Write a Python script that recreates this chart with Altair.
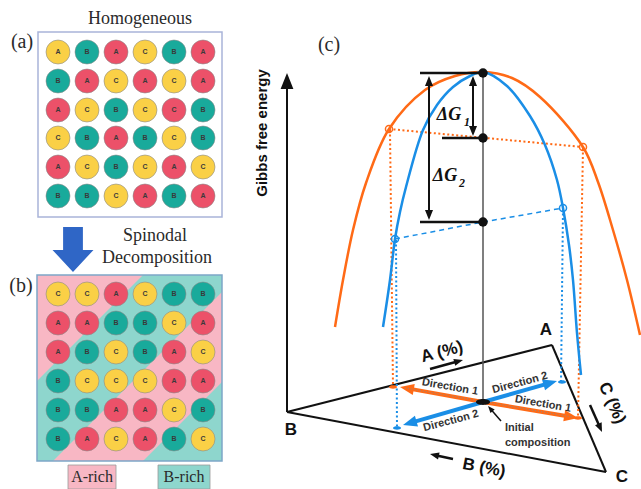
import math
import altair as alt
import pandas as pd

W, H = 641, 489
SERIF = "Liberation Serif"
SANS = "Liberation Sans"

RED, TEAL, YELLOW = "#ec5169", "#19aa9b", "#fad046"
PALETTE = {"R": RED, "T": TEAL, "Y": YELLOW}
PINK_BG, TEAL_BG = "#f8b7c4", "#8ed6cd"
ORANGE, BLUE = "#ff6a16", "#1a8ee6"
ARROW_BLUE = "#2f66c6"
INK = "#111111"

# ---------------- lattice panels (a) and (b) ----------------
col_x = [58, 87, 116, 145, 174, 203]
rows_a = [52, 81, 110, 138, 167, 196]
rows_b = [294, 323, 352, 381, 410, 439]
letters_a = ["ABACBA", "BACACA", "ACBCCB", "CBABCB", "ACBCAC", "BBCABA"]
tones_a = ["YTRYTR", "TRYRYR", "RYTYRT", "YTRTYT", "RYTYRY", "TTYRTR"]
letters_b = ["CCACBB", "AABBCA", "ABCBAC", "BCCCAA", "BBAACB", "BACABC"]
tones_b = ["YYRYTT", "RRTTYR", "RTYTRY", "TYYYRR", "TTRRYT", "TRYRTY"]

box_a = (38, 32, 222, 217)
box_b = (37, 275, 222, 461)
# diagonal composition bands in (b): boundaries of constant x + y
band_edges = [418, 514, 604]
legend_boxes = [(68, 465, 116, 489, PINK_BG), (158, 465, 210, 489, TEAL_BG)]

# ---------------- free-energy panel (c) ----------------
orange_curve = [(335, 327), (343, 280), (353, 230), (366, 183), (389, 129), (425, 90),
                (455, 76), (483, 72), (512, 78), (540, 97), (583, 147), (598, 182),
                (613, 230), (627, 280), (640, 335)]
blue_curve = [(383, 327), (390, 280), (395, 239), (400, 212), (406, 187), (423, 130),
              (437, 105), (453, 87), (470, 76), (483, 72), (507, 86), (530, 116),
              (545, 145), (557, 180), (563, 208), (569, 245), (573, 280), (577, 333),
              (581, 375)]
tri_B, tri_A, tri_C = (287, 412), (552, 345), (606, 472)
center_x, top_y, base_y = 483, 72, 402
level_dots = [(483, 73), (483, 138), (483, 222)]
level_bars = [(420, 73, 483, 73), (442, 138, 483, 138), (420, 222, 483, 222)]
orange_open = [(389, 129), (583, 147)]
blue_open = [(395, 239), (563, 208)]
orange_dotted = [(389, 129, 583, 147), (390, 130, 393, 387), (583, 148, 578, 418)]
blue_dotted = [(396, 240, 397, 428), (563, 209, 561, 382)]
blue_dashed = [(395, 239, 483, 222), (483, 222, 563, 208)]
orange_dirs = [(483, 402, 400, 387), (483, 402, 578, 418)]
blue_dirs = [(483, 402, 557, 381), (483, 402, 403, 425)]
small_arrows = [(430, 369, 463, 360), (453, 459, 430, 454), (590, 405, 602, 432)]
pointer = [(501, 421, 488, 406)]
dg_arrows = [(473, 76, 473, 136), (429, 76, 429, 220)]

xs = alt.Scale(domain=[0, W], nice=False, zero=False)
ys = alt.Scale(domain=[H, 0], nice=False, zero=False)


def pos():
    return dict(x=alt.X("x:Q", scale=xs, axis=None), y=alt.Y("y:Q", scale=ys, axis=None))


def rules(rows, **style):
    df = pd.DataFrame(rows, columns=["x", "y", "x2", "y2"])
    return alt.Chart(df).mark_rule(**style).encode(**pos(), x2="x2:Q", y2="y2:Q")


def rects(rows, **style):
    df = pd.DataFrame(rows, columns=["x", "y", "x2", "y2"])
    return alt.Chart(df).mark_rect(**style).encode(**pos(), x2="x2:Q", y2="y2:Q")


HEAD = "M0,0 L-2,-0.8 L-2,0.8 Z"
ELLIPSE = "M-1,0 C-1,-0.55 1,-0.55 1,0 C1,0.55 -1,0.55 -1,0 Z"
DOWN_ARROW = "M-0.44,-1 L0.44,-1 L0.44,0.02 L0.91,0.02 L0,1 L-0.91,0.02 L-0.44,0.02 Z"


def arrows(rows, color, width, head, both=False):
    shafts, tips = [], []
    for x0, y0, x1, y1 in rows:
        d = math.hypot(x1 - x0, y1 - y0)
        ux, uy = (x1 - x0) / d, (y1 - y0) / d
        back = 0.75 * head
        sx, sy = (x0 + ux * back, y0 + uy * back) if both else (x0, y0)
        shafts.append((sx, sy, x1 - ux * back, y1 - uy * back))
        tips.append((x1, y1, math.degrees(math.atan2(uy, ux)) % 360))
        if both:
            tips.append((x0, y0, math.degrees(math.atan2(-uy, -ux)) % 360))
    shaft = rules(shafts, color=color, strokeWidth=width, strokeCap="butt")
    tdf = pd.DataFrame(tips, columns=["x", "y", "a"])
    hd = alt.Chart(tdf).mark_point(shape=HEAD, filled=True, size=head ** 2, color=color,
                                   opacity=1, strokeWidth=0).encode(
        **pos(), angle=alt.Angle("a:Q", scale=None))
    return [shaft, hd]


def symbols(rows, shape, size, **style):
    df = pd.DataFrame(rows, columns=["x", "y"])
    return alt.Chart(df).mark_point(shape=shape, size=size, opacity=1, **style).encode(**pos())


def texts(rows, **style):
    df = pd.DataFrame(rows, columns=["x", "y", "t", "a"])
    return alt.Chart(df).mark_text(**style).encode(
        **pos(), text="t:N", angle=alt.Angle("a:Q", scale=None))


def curve(pts, color, width):
    df = pd.DataFrame(pts, columns=["x", "y"])
    return alt.Chart(df).mark_line(color=color, strokeWidth=width,
                                   interpolate="catmull-rom").encode(**pos())


def lattice(letters, tones, rows_y):
    recs = []
    for r, (ls, ts) in enumerate(zip(letters, tones)):
        for c, (l, t) in enumerate(zip(ls, ts)):
            recs.append((col_x[c], rows_y[r], l, PALETTE[t]))
    df = pd.DataFrame(recs, columns=["x", "y", "t", "c"])
    dots = alt.Chart(df).mark_point(shape="circle", filled=True, size=576, opacity=1,
                                    stroke="#8a8a8a", strokeWidth=0.6).encode(
        **pos(), fill=alt.Fill("c:N", scale=None))
    labs = alt.Chart(df).mark_text(font=SANS, fontSize=7, fontWeight="bold",
                                   color="#3a3a3a").encode(**pos(), text="t:N")
    return [dots, labs]


def band(lo, hi):
    x0, y0, x1, y1 = box_b
    cand = sorted({x0, x1, lo - y1, lo - y0, hi - y1, hi - y0})
    out = []
    for v in cand:
        if x0 <= v <= x1:
            top, bot = max(y0, lo - v), min(y1, hi - v)
            if bot >= top:
                out.append((v, top, bot))
    return out


layers = []

# panel (a)
layers.append(rects([box_a], fill="white", stroke="#a9b4d9", strokeWidth=1.5))
layers += lattice(letters_a, tones_a, rows_a)

# panel (b): teal ground with pink diagonal bands
layers.append(rects([box_b], fill=TEAL_BG))
band_rows = []
for k, (lo, hi) in enumerate([(0, band_edges[0]), (band_edges[1], band_edges[2])]):
    band_rows += [(k, v, t, b) for v, t, b in band(lo, hi)]
bdf = pd.DataFrame(band_rows, columns=["k", "x", "y", "y2"])
layers.append(alt.Chart(bdf).mark_area(color=PINK_BG, opacity=1).encode(
    **pos(), y2="y2:Q", detail="k:N"))
layers.append(rects([box_b], fill=None, stroke="#7ea6c8", strokeWidth=1.5, filled=False))
layers += lattice(letters_b, tones_b, rows_b)

for x0, y0, x1, y1, c in legend_boxes:
    layers.append(rects([(x0, y0, x1, y1)], fill=c, stroke="#9a9a9a", strokeWidth=0.8))

# big arrow between panels
layers.append(symbols([(73, 249.5)], DOWN_ARROW, 2025, filled=True, color=ARROW_BLUE,
                      strokeWidth=0))

layers.append(texts([(140, 19, "Homogeneous", 0), (155, 236, "Spinodal", 0),
                     (157, 258, "Decomposition", 0)],
                    font=SERIF, fontSize=18, color="#2a2a2a", baseline="middle"))
layers.append(texts([(92, 477, "A-rich", 0), (184, 477, "B-rich", 0)],
                    font=SERIF, fontSize=16, color="#2a2a2a", baseline="middle"))
layers.append(texts([(22, 42, "(a)", 0), (21, 286, "(b)", 0), (329, 45, "(c)", 0)],
                    font=SERIF, fontSize=20, color="#2a2a2a", baseline="middle"))

# panel (c): composition triangle and energy axis
layers.append(rules([(*tri_B, *tri_A), (*tri_A, *tri_C), (*tri_C, *tri_B)],
                    color=INK, strokeWidth=2))
layers += arrows([(287, 412, 287, 73)], INK, 2, 16)
layers.append(rules([(center_x, top_y, center_x, base_y)], color="#555555", strokeWidth=1.5))

# construction lines
layers.append(rules(orange_dotted, color=ORANGE, strokeWidth=2, strokeDash=[2, 2.5]))
layers.append(rules(blue_dotted, color=BLUE, strokeWidth=2, strokeDash=[2, 2.5]))
layers.append(rules(blue_dashed, color=BLUE, strokeWidth=1.5, strokeDash=[5, 4]))

# free-energy curves
layers.append(curve(orange_curve, ORANGE, 2.5))
layers.append(curve(blue_curve, BLUE, 2.5))

# energy levels
layers.append(rules(level_bars, color=INK, strokeWidth=2.5))
layers += arrows(dg_arrows, INK, 2, 10, both=True)
layers.append(symbols(level_dots, "circle", 90, filled=True, color=INK))
layers.append(symbols(orange_open, "circle", 50, filled=False, color=ORANGE, strokeWidth=1.5))
layers.append(symbols(blue_open, "circle", 50, filled=False, color=BLUE, strokeWidth=1.5))

# decomposition directions
layers += arrows(orange_dirs, ORANGE, 4, 14)
layers += arrows(blue_dirs, BLUE, 4, 14)
layers.append(rules([(405, 388, 572, 417)], color="#8c8c8c", strokeWidth=1, strokeDash=[1, 2]))
layers.append(symbols([(393, 387), (578, 418)], ELLIPSE, 64, filled=True, color=ORANGE,
                      strokeWidth=0))
layers.append(symbols([(397, 428), (562, 382)], ELLIPSE, 64, filled=True, color=BLUE,
                      strokeWidth=0))
layers.append(symbols([(483, 402)], ELLIPSE, 196, filled=True, color=INK, strokeWidth=0))

layers += arrows(small_arrows, INK, 2.5, 9)
layers += arrows(pointer, INK, 1.5, 7)

layers.append(texts([(262, 133, "Gibbs free energy", 270)],
                    font=SANS, fontSize=15, fontWeight="bold", color=INK, baseline="middle"))
layers.append(texts([(546, 330, "A", 0), (291, 430, "B", 0), (622, 477, "C", 0),
                     (442, 352, "A (%)", 345), (484, 468, "B (%)", 11),
                     (612, 403, "C (%)", 66)],
                    font=SANS, fontSize=17, fontWeight="bold", color=INK, baseline="middle"))
layers.append(texts([(450, 387, "Direction 1", 10), (543, 404, "Direction 1", 10),
                     (520, 383, "Direction 2", 345), (451, 421, "Direction 2", 345)],
                    font=SANS, fontSize=11, fontWeight="bold", color="#333333",
                    baseline="middle"))
layers.append(texts([(505, 428, "Initial", 0), (505, 443, "composition", 0)],
                    font=SANS, fontSize=11, fontWeight="bold", color="#333333",
                    baseline="middle", align="left"))
layers.append(texts([(449, 115, "ΔG", 0), (445, 176, "ΔG", 0)],
                    font=SERIF, fontSize=18, fontWeight="bold", fontStyle="italic",
                    color=INK, baseline="middle"))
layers.append(texts([(467, 122, "1", 0), (462, 183, "2", 0)],
                    font=SERIF, fontSize=12, fontWeight="bold", fontStyle="italic",
                    color=INK, baseline="middle"))

chart = alt.layer(*layers).properties(
    width=W, height=H, padding=0, autosize=alt.AutoSizeParams(type="none"),
    background="white",
).configure_view(stroke=None)

chart.save("out.html", embed_options={"renderer": "svg", "actions": False})
